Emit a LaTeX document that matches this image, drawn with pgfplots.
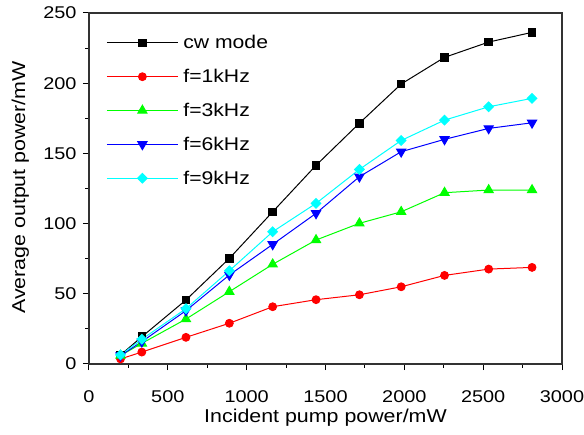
\documentclass[border=0pt]{standalone}
\usepackage{pgfplots}
\pgfplotsset{compat=1.18}
\usepackage{fontspec}
\setmainfont[FakeStretch=1.15]{Liberation Sans}
\newfontfamily\tickfont[FakeStretch=1.17]{Liberation Sans}
\definecolor{cBlack}{RGB}{0,0,0}
\definecolor{cRed}{RGB}{255,0,0}
\definecolor{cGreen}{RGB}{0,255,0}
\definecolor{cBlue}{RGB}{0,0,255}
\definecolor{cCyan}{RGB}{0,255,255}
\begin{document}
\begin{tikzpicture}
\begin{axis}[
  scale only axis,
  width=473pt, height=351pt,
  xmin=0, xmax=3000, ymin=0, ymax=250,
  xtick={0,500,...,3000}, ytick={0,50,...,250},
  minor x tick num=1, minor y tick num=1,
  tick align=outside, xtick pos=bottom, ytick pos=left,
  major tick length=6pt, minor tick length=3.5pt,
  every tick/.style={line width=1pt, black},
  axis line style={line width=1.2pt, black!80},
  /pgf/number format/assume math mode=true,
  /pgf/number format/1000 sep={},
  tick label style={font=\tickfont\fontsize{17}{20}\selectfont},
  xticklabel style={yshift=-17pt},
  yticklabel style={xshift=-3pt},
  label style={font=\fontsize{18.6}{22}\selectfont},
  xlabel={Incident pump power/mW},
  ylabel={Average output power/mW},
  xlabel style={at={(axis description cs:0.5,-0.153)}, anchor=center, inner sep=1pt},
  ylabel style={at={(axis description cs:-0.145,0.503)}, anchor=center, inner sep=1pt},
  legend style={draw=none, fill=none, at={(axis description cs:0.03,0.948)}, anchor=north west,
    font=\fontsize{18.4}{22}\selectfont, row sep=15pt,
    /tikz/every odd column/.append style={column sep=3pt}},
  legend cell align=left,
  legend image code/.code={\draw[mark repeat=2,mark phase=2] plot coordinates {(0pt,0pt)(35.5pt,0pt)(71pt,0pt)};},
  every axis plot/.append style={line width=1pt},
]
\addplot[cBlack, mark=square*, mark size=3.8pt] coordinates {
(200,6.4)(335,19.4)(615,45.6)(890,75.2)(1165,108.4)(1440,141.5)(1715,171.5)(1980,199.4)(2255,218.4)(2535,229.3)(2810,236.2)};
\addlegendentry{cw mode}
\addplot[cRed, mark=*, mark size=3.9pt] coordinates {
(200,3.6)(335,8.5)(615,19)(890,29)(1165,40.8)(1440,45.8)(1715,49.3)(1980,55)(2255,63.1)(2535,67.6)(2810,68.8)};
\addlegendentry{f=1kHz}
\addplot[cGreen, mark=triangle*, mark size=5.3pt] coordinates {
(200,6)(335,14.7)(615,32)(890,51.5)(1165,71)(1440,88.3)(1715,100.2)(1980,108.4)(2255,122)(2535,123.9)(2810,123.9)};
\addlegendentry{f=3kHz}
\addplot[cBlue, mark=triangle*, mark options={rotate=180}, mark size=5.3pt] coordinates {
(200,6)(335,15.9)(615,38)(890,63.4)(1165,85.2)(1440,107.3)(1715,133.4)(1980,151.2)(2255,160)(2535,167.8)(2810,171.8)};
\addlegendentry{f=6kHz}
\addplot[cCyan, mark=square*, mark options={rotate=45}, mark size=3.4pt] coordinates {
(200,6.5)(335,17.6)(615,39.4)(890,66.4)(1165,94.2)(1440,114.4)(1715,138.6)(1980,159.2)(2255,173.7)(2535,183.2)(2810,189.2)};
\addlegendentry{f=9kHz}
\end{axis}
\pgfresetboundingbox
\path[use as bounding box] (-89pt,-70pt) rectangle (495pt,364pt);
\end{tikzpicture}
\end{document}
